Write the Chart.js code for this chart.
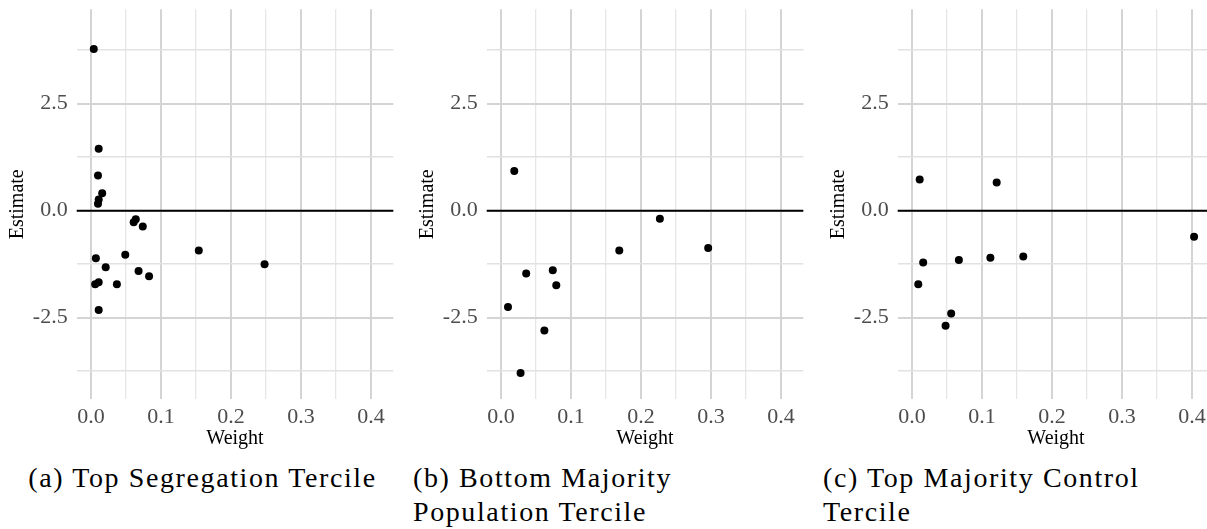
<!DOCTYPE html>
<html>
<head>
<meta charset="utf-8">
<script src="https://cdn.jsdelivr.net/npm/chart.js@4.4.1/dist/chart.umd.min.js"></script>
<style>
    html, body { margin: 0; padding: 0; background: #fff; }
    #page { position: relative; width: 1207px; height: 529px; overflow: hidden; }
    canvas { position: absolute; top: 0; }
    .caption {
        position: absolute; top: 460.5px; white-space: nowrap;
        font-family: 'Liberation Serif', serif; font-size: 28px; line-height: 34.5px;
        letter-spacing: 1.6px; color: #000;
    }
</style>
</head>
<body>
<div id="page">
    <canvas id="chartA" width="410" height="452" style="left:0px"></canvas>
    <canvas id="chartB" width="410" height="452" style="left:410.3px"></canvas>
    <canvas id="chartC" width="410" height="452" style="left:820.6px"></canvas>
    <div class="caption" style="left:3px;width:399px;text-align:center">(a) Top Segregation Tercile</div>
    <div class="caption" style="left:413px">(b) Bottom Majority<br>Population Tercile</div>
    <div class="caption" style="left:823px">(c) Top Majority Control<br>Tercile</div>
</div>
<script>
// (a) Top Segregation Tercile
const weightsA   = [0.004, 0.011, 0.010, 0.016, 0.011, 0.010, 0.061, 0.064, 0.074, 0.049, 0.007, 0.021, 0.068, 0.083, 0.037, 0.006, 0.011, 0.011, 0.154, 0.248];
const estimatesA = [3.78, 1.45, 0.82, 0.41, 0.26, 0.16, -0.27, -0.20, -0.37, -1.03, -1.11, -1.32, -1.41, -1.53, -1.72, -1.72, -1.67, -2.32, -0.93, -1.25];

// (b) Bottom Majority Population Tercile
const weightsB   = [0.019, 0.036, 0.074, 0.079, 0.010, 0.062, 0.028, 0.169, 0.227, 0.296];
const estimatesB = [0.93, -1.47, -1.39, -1.74, -2.25, -2.80, -3.79, -0.93, -0.19, -0.87];

// (c) Top Majority Control Tercile
const weightsC   = [0.011, 0.121, 0.016, 0.009, 0.067, 0.112, 0.159, 0.056, 0.048, 0.403];
const estimatesC = [0.73, 0.66, -1.21, -1.72, -1.15, -1.10, -1.07, -2.40, -2.69, -0.61];

// axes
const xTickValues = [0, 0.1, 0.2, 0.3, 0.4];
const xTickLabels = ['0.0', '0.1', '0.2', '0.3', '0.4'];
const xGrid = [0, 0.05, 0.1, 0.15, 0.2, 0.25, 0.3, 0.35, 0.4];
const yTickValues = [-2.5, 0, 2.5];
const yTickLabels = ['-2.5', '0.0', '2.5'];
const yGrid = [-3.75, -2.5, -1.25, 0, 1.25, 2.5, 3.75];
const xMin = -0.0204, xMax = 0.4319;
const yMin = -4.407, yMax = 4.706;

const FONT = "'Liberation Serif', serif";

function labelFor(values, labels, v) {
    const i = values.findIndex(t => Math.abs(t - v) < 1e-9);
    return i >= 0 ? labels[i] : '';
}
function isMajor(values, v) {
    return values.some(t => Math.abs(t - v) < 1e-9);
}

// black reference line at Estimate = 0
const zeroLine = {
    id: 'zeroLine',
    beforeDatasetsDraw(chart) {
        const { ctx, chartArea, scales } = chart;
        const y = scales.y.getPixelForValue(0);
        ctx.save();
        ctx.strokeStyle = '#000';
        ctx.lineWidth = 2;
        ctx.beginPath();
        ctx.moveTo(chartArea.left, y);
        ctx.lineTo(chartArea.right, y);
        ctx.stroke();
        ctx.restore();
    }
};

function makePanel(id, weights, estimates) {
    const ctx = document.getElementById(id).getContext('2d');
    return new Chart(ctx, {
        type: 'scatter',
        data: {
            datasets: [{
                data: weights.map((w, i) => ({ x: w, y: estimates[i] })),
                backgroundColor: '#000',
                borderWidth: 0,
                pointRadius: 4
            }]
        },
        options: {
            responsive: false,
            animation: false,
            devicePixelRatio: 1,
            layout: { padding: { top: 9.3, right: 16.7, left: 0, bottom: 0 } },
            plugins: { legend: { display: false }, tooltip: { enabled: false } },
            scales: {
                x: {
                    type: 'linear', min: xMin, max: xMax,
                    afterBuildTicks: s => { s.ticks = xGrid.map(v => ({ value: v })); },
                    afterFit: s => { s.height = 52.7; s.paddingLeft = 0; s.paddingRight = 0; },
                    border: { display: false },
                    grid: {
                        drawTicks: false,
                        color: c => isMajor(xTickValues, c.tick.value) ? '#d4d4d4' : '#e6e6e6',
                        lineWidth: c => isMajor(xTickValues, c.tick.value) ? 2 : 1.3
                    },
                    ticks: {
                        padding: 5, maxRotation: 0, autoSkip: false,
                        color: '#4d4d4d', font: { family: FONT, size: 22 },
                        callback: v => labelFor(xTickValues, xTickLabels, v)
                    },
                    title: {
                        display: true, text: 'Weight', color: '#000',
                        font: { family: FONT, size: 20 }, padding: { top: 0, bottom: 1 }
                    }
                },
                y: {
                    type: 'linear', min: yMin, max: yMax,
                    afterBuildTicks: s => { s.ticks = yGrid.map(v => ({ value: v })); },
                    afterFit: s => { s.width = 76.7; s.paddingTop = 0; s.paddingBottom = 0; },
                    border: { display: false },
                    grid: {
                        drawTicks: false,
                        color: c => isMajor(yTickValues, c.tick.value) ? '#d4d4d4' : '#e2e2e2',
                        lineWidth: c => isMajor(yTickValues, c.tick.value) ? 2 : 1.5
                    },
                    ticks: {
                        padding: 9, autoSkip: false,
                        color: '#4d4d4d', font: { family: FONT, size: 22 },
                        callback: v => labelFor(yTickValues, yTickLabels, v)
                    },
                    title: {
                        display: true, text: 'Estimate', color: '#000',
                        font: { family: FONT, size: 20 }, padding: { top: 6, bottom: 0 }
                    }
                }
            }
        },
        plugins: [zeroLine]
    });
}

makePanel('chartA', weightsA, estimatesA);
makePanel('chartB', weightsB, estimatesB);
makePanel('chartC', weightsC, estimatesC);
</script>
</body>
</html>
